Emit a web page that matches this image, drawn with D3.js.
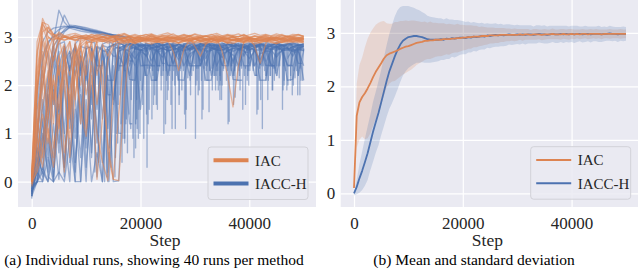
<!DOCTYPE html>
<html><head><meta charset="utf-8">
<script src="https://cdn.jsdelivr.net/npm/d3@7"></script>
<style>
body{margin:0;background:#fff}
svg{display:block}
text{font-family:"Liberation Serif","Times New Roman",serif;fill:#262626}
</style>
</head><body>
<svg id="c" width="640" height="269" font-family="Liberation Serif, serif"></svg>
<script>
// ---------------- DATA ----------------
const METHODS = ["IAC", "IACC-H"];
const X_TICKS = [0, 20000, 40000];
const Y_TICKS = [0, 1, 2, 3];
const STEPS_L = d3.range(0, 50001, 1000);   // logging steps, individual runs
const STEPS_R = d3.range(0, 50001, 500);    // logging steps, aggregated curves
const CAPTION_A = "(a) Individual runs, showing 40 runs per method";
const CAPTION_B = "(b) Mean and standard deviation";
const X_LABEL = "Step";

// individual runs: IAC (value at each 1000-step log point)
const IAC_RUNS = [
[0.02,2.6,3.38,3.12,2.98,2.95,2.99,2.96,3.0,2.97,2.95,2.99,2.97,3.01,2.96,2.98,2.95,2.99,2.97,3.0,2.96,2.98,3.02,2.97,2.95,2.99,2.97,3.0,2.96,2.98,2.95,2.99,3.02,2.97,2.96,2.99,2.97,3.0,2.95,2.98,2.96,3.01,2.97,2.99,2.96,2.98,3.0,2.95,2.98,2.97,2.99],
[0.0,1.9,3.3,3.25,3.05,3.0,3.02,2.98,3.03,3.0,2.99,3.04,3.01,2.98,3.02,3.0,3.05,2.99,3.01,3.03,2.98,3.0,3.04,3.01,2.99,3.02,3.06,3.0,2.98,3.03,3.01,2.99,3.02,3.05,3.0,2.98,3.03,3.01,3.0,3.04,2.99,3.02,3.0,3.03,2.98,3.01,3.05,3.0,3.02,2.99,3.01],
[0.08,1.2,2.5,3.2,3.05,2.96,2.93,2.97,2.94,2.91,2.95,2.92,2.96,2.93,2.9,2.94,2.97,2.92,2.95,2.93,2.9,2.94,2.96,2.92,2.95,2.93,2.7,2.3,2.75,2.93,2.96,2.92,2.94,2.91,2.95,2.93,2.96,2.92,2.94,2.9,2.95,2.93,2.96,2.92,2.94,2.97,2.93,2.91,2.95,2.93,2.96],
[0.0,0.6,1.4,0.8,2.1,1.5,2.6,2.2,2.85,2.5,2.9,2.88,2.93,2.9,2.95,2.91,2.88,2.94,2.92,2.89,2.95,2.91,2.93,2.88,2.94,2.92,2.9,2.95,2.91,2.93,2.89,2.94,2.92,2.96,2.9,2.93,2.91,2.95,2.92,2.89,2.94,2.91,2.93,2.9,2.95,2.92,2.88,2.94,2.91,2.93,2.9],
[0.05,1.8,2.9,2.4,1.2,2.6,1.9,0.9,2.3,1.5,0.94,2.2,1.0,0.4,0.02,1.9,2.85,2.9,2.95,2.92,2.97,2.93,2.96,2.91,2.95,2.98,2.93,2.96,2.92,2.95,2.97,2.93,2.96,2.91,2.94,2.97,2.93,2.95,2.92,2.96,2.98,2.94,2.91,2.95,2.97,2.93,2.96,2.92,2.94,2.97,2.95],
[-0.1,0.3,0.9,1.7,2.5,2.9,3.0,2.96,2.99,2.95,2.98,3.01,2.96,2.99,2.97,3.0,2.95,2.98,3.02,2.97,2.99,2.96,3.0,2.97,2.95,2.99,3.01,2.96,2.98,3.0,2.97,2.99,2.96,3.01,2.98,2.7,2.2,1.55,2.4,2.9,2.98,2.96,3.0,2.97,2.99,2.95,2.98,3.01,2.97,2.99,2.96],
[0.05,2.9,3.3,3.0,2.94,2.97,2.93,2.96,2.92,2.98,2.95,2.93,2.97,2.94,2.96,2.92,2.95,2.98,2.93,2.96,2.94,2.92,2.97,2.95,2.93,2.96,2.98,2.94,2.92,2.96,2.94,2.97,2.93,2.95,2.98,2.94,2.96,2.92,2.95,2.97,2.93,2.96,2.94,2.98,2.95,2.92,2.96,2.94,2.97,2.95,2.93],
[0.0,1.5,2.0,2.7,3.0,3.04,2.99,3.02,2.98,3.01,3.04,2.99,3.02,3.0,3.03,2.98,3.01,3.04,3.0,2.98,3.02,3.05,3.0,2.99,3.03,3.01,2.98,3.02,3.04,3.0,2.99,3.03,3.01,2.98,3.02,3.0,3.04,2.99,3.01,3.03,2.98,2.8,2.45,2.85,3.01,3.03,2.99,3.02,3.0,3.04,3.01],
[0.0,0.9,0.3,1.1,0.5,1.8,2.4,1.6,2.7,1.2,2.5,2.9,2.2,2.85,2.6,2.9,2.94,2.9,2.93,2.88,2.92,2.95,2.9,2.93,2.89,2.94,2.91,2.88,2.93,2.9,2.95,2.91,2.89,2.94,2.9,2.92,2.88,2.93,2.91,2.95,2.9,2.92,2.89,2.94,2.91,2.88,2.93,2.9,2.94,2.91,2.89],
[0.2,2.7,3.25,3.1,3.04,3.06,3.02,3.05,3.07,3.03,3.0,3.05,3.02,3.06,3.03,3.0,3.04,3.07,3.02,3.05,3.01,3.04,3.06,3.02,3.05,3.08,3.03,3.01,3.05,3.02,3.06,3.03,3.0,3.04,3.07,3.02,3.05,3.03,3.06,3.01,3.04,3.07,3.03,3.05,3.02,3.06,3.03,3.01,3.05,3.04,3.02],
[0.0,1.1,2.2,3.0,2.9,2.2,2.8,1.4,2.6,2.9,1.8,2.4,0.05,1.3,2.5,2.8,2.9,2.86,2.9,2.87,2.92,2.88,2.85,2.9,2.87,2.91,2.88,2.86,2.9,2.93,2.87,2.89,2.85,2.9,2.88,2.92,2.86,2.89,2.91,2.87,2.9,2.85,2.89,2.92,2.88,2.86,2.9,2.87,2.91,2.88,2.9],
[0.1,1.9,3.1,3.2,3.0,2.97,3.0,2.96,2.99,3.02,2.97,2.99,2.95,3.0,2.97,3.01,2.98,2.96,3.0,2.97,2.99,2.95,3.02,2.98,2.96,3.0,2.97,2.99,3.01,2.96,2.98,3.0,2.97,2.95,2.99,3.02,2.97,2.99,2.96,3.0,2.98,2.95,2.99,3.01,2.97,2.99,2.96,3.0,2.98,2.96,2.99],
[0.0,0.4,1.6,2.3,0.7,1.4,0.2,1.9,2.6,2.8,2.2,2.9,2.95,2.9,2.93,2.89,2.94,2.91,2.88,2.93,2.9,2.95,2.91,2.89,2.94,2.9,2.92,2.88,2.93,2.91,2.95,2.9,2.92,2.89,2.94,2.91,2.88,2.93,2.9,2.94,2.91,2.89,2.93,2.9,2.95,2.91,2.88,2.92,2.9,2.94,2.91],
[-0.05,2.0,2.7,1.3,2.8,3.0,2.4,2.9,1.7,2.85,2.95,2.6,2.9,1.9,0.8,0.05,1.4,2.7,2.92,2.96,2.93,2.97,2.94,2.98,2.95,2.92,2.96,2.94,2.97,2.93,2.95,2.98,2.94,2.96,2.92,2.95,2.97,2.93,2.96,2.94,2.98,2.95,2.92,2.96,2.94,2.97,2.93,2.95,2.98,2.94,2.96],
[0.0,0.2,0.6,1.3,2.2,1.1,2.7,2.9,2.4,2.95,2.99,2.94,2.97,3.0,2.95,2.98,3.01,2.96,2.99,2.94,2.98,3.0,2.95,2.97,3.01,2.96,2.99,2.94,2.98,3.02,2.96,2.99,2.95,2.97,3.0,2.96,2.98,3.01,2.95,2.99,2.97,2.94,2.98,3.01,2.96,2.99,2.95,2.98,3.0,2.96,2.98],
[0.1,2.2,3.0,2.6,1.6,2.4,0.6,1.5,2.9,2.0,2.85,2.93,2.89,2.92,2.87,2.9,2.93,2.88,2.91,2.86,2.9,2.93,2.88,2.91,2.87,2.9,2.92,2.88,2.91,2.86,2.9,2.93,2.88,2.9,2.87,2.92,2.89,2.86,2.91,2.88,2.93,2.9,2.87,2.91,2.89,2.86,2.9,2.92,2.88,2.91,2.87],
[0.0,1.3,0.5,2.0,2.9,3.1,3.02,2.98,3.04,3.0,3.03,2.99,3.05,3.01,2.98,3.03,3.0,3.06,3.01,2.99,3.03,3.0,3.05,2.98,3.02,3.04,3.0,2.98,3.03,3.01,3.05,2.99,3.02,3.0,3.04,2.98,3.01,3.03,3.0,3.05,2.99,3.02,3.0,3.04,3.01,2.98,3.03,3.0,3.02,3.05,3.0],
[0.05,0.8,2.4,1.0,0.3,1.2,2.3,0.5,1.8,2.6,1.1,2.7,1.6,2.5,0.6,0.05,0.02,1.7,2.8,2.92,2.95,2.9,2.94,2.97,2.92,2.95,2.91,2.94,2.97,2.92,2.95,2.9,2.94,2.96,2.92,2.95,2.91,2.94,2.97,2.92,2.95,2.9,2.94,2.96,2.92,2.95,2.91,2.93,2.96,2.92,2.94],
[0.0,2.3,3.2,2.9,2.5,2.95,3.0,2.96,2.93,2.97,2.99,2.95,2.98,2.94,2.97,3.0,2.95,2.98,2.93,2.97,2.99,2.95,2.98,2.94,2.97,3.0,2.95,2.98,2.93,2.97,2.8,2.6,2.85,2.97,2.94,2.98,2.95,2.99,2.93,2.97,3.0,2.95,2.98,2.94,2.97,2.99,2.95,2.98,2.93,2.97,2.96],
[-0.05,1.0,1.9,2.9,1.7,2.6,2.85,1.3,2.2,2.8,2.9,2.5,2.92,2.96,2.91,2.94,2.97,2.92,2.95,2.9,2.94,2.97,2.92,2.95,2.91,2.94,2.96,2.92,2.95,2.9,2.94,2.97,2.92,2.95,2.91,2.93,2.96,2.92,2.95,2.9,2.94,2.97,2.92,2.95,2.91,2.93,2.96,2.92,2.95,2.91,2.94]
];

// individual runs: IACC-H (value at each 1000-step log point)
const IACCH_RUNS = [
[-0.25,0.4,1.2,2.1,2.9,3.55,3.3,3.18,3.15,3.12,3.1,3.08,3.06,3.04,3.02,3.0,2.88,2.82,2.85,2.8,2.84,2.78,2.83,2.86,2.8,2.84,2.79,2.85,2.82,2.78,2.84,2.81,2.86,2.8,2.83,2.78,2.85,2.82,2.8,2.84,2.79,2.83,2.86,2.81,2.78,2.84,2.82,2.85,2.8,2.83,2.81],
[-0.2,0.1,0.8,1.6,2.4,3.1,3.45,3.22,3.2,3.17,3.14,3.11,3.08,3.05,3.03,3.01,2.99,2.86,2.8,2.84,2.77,2.82,2.85,2.79,2.83,2.76,2.81,2.85,2.78,2.82,2.8,2.85,2.77,2.83,2.8,2.86,2.79,2.82,2.84,2.78,2.81,2.85,2.79,2.83,2.8,2.77,2.84,2.81,2.85,2.79,2.82],
[-0.3,0.6,1.5,2.2,2.8,3.0,3.15,3.24,3.23,3.21,3.19,3.16,3.13,3.1,3.07,3.04,3.02,3.0,2.87,2.82,2.86,2.8,2.84,2.78,2.83,2.87,2.81,2.84,2.79,2.85,2.82,2.8,2.86,2.81,2.84,2.78,2.83,2.86,2.8,2.84,2.81,2.78,2.85,2.82,2.86,2.8,2.83,2.79,2.85,2.82,2.84],
[-0.15,0.2,0.9,1.9,2.6,2.9,3.1,3.2,3.22,3.2,3.17,3.14,3.11,3.08,3.05,3.03,2.85,2.78,2.83,2.76,2.8,2.84,2.77,2.82,2.75,2.8,2.83,2.77,2.81,2.75,2.82,2.79,2.84,2.76,2.8,2.83,2.77,2.81,2.75,2.8,2.84,2.78,2.82,2.76,2.81,2.79,2.83,2.77,2.8,2.75,2.81],
[-0.2,0.0,0.3,0.0,1.2,0.05,2.1,0.4,1.5,0.0,2.5,0.6,2.8,1.3,2.7,2.85,2.3,2.8,2.74,2.8,2.72,2.78,2.74,2.4,2.76,2.72,2.79,2.73,2.77,2.71,2.78,2.74,2.41,2.76,2.73,2.79,2.72,2.76,2.73,2.78,2.71,2.75,2.42,2.77,2.73,2.78,2.72,2.76,2.74,2.78,2.73],
[-0.1,0.0,0.0,0.5,0.0,0.2,0.0,0.9,0.0,0.0,1.7,0.0,0.6,0.0,2.2,0.0,0.02,2.6,1.2,2.7,1.5,2.75,2.78,2.72,2.76,2.8,2.74,2.77,2.71,2.75,2.79,2.73,2.76,2.72,2.78,2.74,2.7,2.76,2.73,2.79,2.74,2.71,2.77,2.73,2.76,2.72,2.78,2.74,2.7,2.75,2.72],
[-0.25,1.0,2.3,1.4,2.8,2.0,2.75,1.1,2.8,2.3,2.7,0.5,2.8,2.75,1.8,2.8,2.76,2.82,2.4,2.78,2.83,2.75,2.8,2.77,2.84,2.76,2.42,2.79,2.82,2.75,2.8,2.77,2.83,2.76,2.81,2.4,2.78,2.82,2.75,2.8,2.77,2.83,2.76,2.8,2.43,2.78,2.82,2.76,2.8,2.77,2.79],
[-0.3,0.3,1.7,0.5,2.2,2.7,1.0,2.6,2.8,2.2,2.75,2.8,2.4,2.4,2.78,2.82,2.4,2.4,2.8,2.76,2.4,2.41,2.4,2.79,2.83,2.42,2.4,2.78,2.81,2.4,2.4,2.41,2.8,2.77,2.83,2.41,2.4,2.79,2.82,2.4,2.4,2.78,2.81,2.41,2.4,2.8,2.77,2.42,2.4,2.79,2.8],
[-0.2,0.0,0.7,1.8,0.3,2.4,2.8,1.5,0.2,2.6,2.1,2.75,0.8,2.7,2.1,2.1,2.76,2.8,2.12,2.1,2.74,2.79,2.1,2.1,2.77,2.72,2.8,2.11,2.1,2.76,2.8,2.73,2.1,2.1,2.78,2.74,2.79,2.12,2.1,2.75,2.8,2.73,2.1,2.1,2.77,2.81,2.74,2.1,2.12,2.76,2.1],
[-0.15,0.5,0.2,1.3,2.0,0.8,2.5,2.7,2.2,2.8,2.76,1.6,2.78,2.72,2.75,2.6,2.78,2.73,2.55,2.76,2.72,2.78,2.5,2.74,2.77,2.71,2.75,2.52,2.78,2.73,2.76,2.71,2.55,2.77,2.74,2.72,2.78,2.5,2.75,2.73,2.77,2.71,2.52,2.76,2.74,2.78,2.72,2.55,2.75,2.73,2.77],
[-0.35,0.8,2.0,2.7,1.6,2.85,2.9,2.3,2.85,3.0,2.95,2.88,2.6,2.85,2.9,2.84,2.87,2.82,2.86,2.83,2.88,2.81,2.85,2.87,2.82,2.86,2.84,2.6,2.85,2.88,2.82,2.86,2.83,2.87,2.81,2.85,2.88,2.82,2.86,2.6,2.84,2.87,2.82,2.86,2.83,2.88,2.81,2.85,2.87,2.83,2.86],
[-0.2,0.2,0.0,0.9,0.1,1.4,0.3,2.3,0.4,1.8,0.0,2.5,1.1,0.0,2.6,1.7,2.7,2.78,2.5,2.8,2.75,2.6,2.78,2.81,2.74,2.79,2.45,2.77,2.8,2.74,2.78,2.5,2.76,2.8,2.73,2.79,2.75,2.45,2.78,2.81,2.74,2.77,2.8,2.5,2.76,2.79,2.74,2.78,2.6,2.8,2.76],
[-0.3,1.5,2.6,2.9,3.0,3.05,3.12,3.2,3.19,3.17,3.15,3.13,3.11,3.09,3.06,3.04,3.03,3.01,3.0,2.86,2.8,2.84,2.78,2.82,2.86,2.79,2.83,2.8,2.85,2.78,2.82,2.86,2.8,2.84,2.79,2.83,2.86,2.8,2.83,2.78,2.85,2.81,2.84,2.79,2.83,2.86,2.8,2.84,2.79,2.82,2.85],
[-0.1,0.0,1.3,0.1,0.0,2.4,0.3,1.8,0.0,2.7,0.9,2.0,0.1,2.8,1.1,2.75,2.8,2.3,2.78,2.74,2.8,2.72,2.77,2.81,2.45,2.76,2.8,2.73,2.78,2.44,2.75,2.81,2.74,2.78,2.72,2.77,2.45,2.8,2.75,2.78,2.73,2.79,2.44,2.76,2.8,2.74,2.77,2.72,2.79,2.45,2.76],
[-0.2,0.7,0.1,1.9,2.6,1.4,2.8,2.3,2.85,1.2,2.8,2.76,2.3,2.82,2.78,2.84,2.77,2.81,2.85,2.78,2.82,2.76,2.84,2.79,2.83,2.77,2.81,2.85,2.78,2.82,2.76,2.84,2.79,2.83,2.77,2.81,2.85,2.78,2.82,2.76,2.84,2.79,2.83,2.77,2.81,2.85,2.78,2.82,2.76,2.83,2.8],
[-0.3,0.0,0.2,0.0,0.7,1.6,0.1,2.4,0.9,2.6,0.3,1.9,2.7,0.4,2.75,1.6,2.7,2.74,2.7,2.55,2.73,2.7,2.76,2.72,2.58,2.71,2.75,2.7,2.73,2.56,2.72,2.76,2.7,2.74,2.71,2.57,2.73,2.7,2.75,2.72,2.55,2.71,2.74,2.7,2.73,2.58,2.72,2.75,2.7,2.73,2.71],
[-0.1,0.9,2.5,2.85,3.05,3.15,3.2,3.21,3.19,3.18,3.15,3.12,3.1,3.08,3.06,3.04,3.02,2.9,2.84,2.87,2.82,2.86,2.83,2.87,2.81,2.85,2.88,2.83,2.86,2.82,2.87,2.84,2.81,2.86,2.83,2.88,2.82,2.85,2.87,2.83,2.86,2.81,2.85,2.88,2.82,2.86,2.84,2.87,2.82,2.85,2.83],
[-0.25,0.3,1.0,0.2,1.9,0.6,2.2,2.7,1.7,0.5,2.4,1.3,2.6,2.2,0.0,1.5,2.6,2.4,2.65,2.4,2.7,2.62,2.4,2.68,2.72,2.4,2.66,2.7,2.4,2.64,2.71,2.4,2.67,2.72,2.4,2.65,2.7,2.62,2.4,2.68,2.72,2.4,2.66,2.7,2.4,2.63,2.71,2.4,2.67,2.7,2.4],
[-0.2,1.8,2.9,3.1,3.18,3.2,3.22,3.2,3.19,3.16,3.13,3.11,3.09,3.07,3.05,3.03,3.01,2.99,2.98,2.88,2.83,2.87,2.8,2.85,2.88,2.82,2.86,2.8,2.84,2.87,2.81,2.85,2.88,2.82,2.86,2.8,2.84,2.87,2.81,2.85,2.88,2.82,2.86,2.8,2.84,2.87,2.81,2.85,2.88,2.82,2.86],
[-0.15,0.0,0.5,1.4,0.0,2.0,1.0,0.0,2.5,1.9,0.7,2.75,1.5,2.7,0.2,2.4,1.0,2.72,2.2,2.76,2.71,2.2,2.75,2.7,2.78,2.2,2.73,2.77,2.7,2.2,2.74,2.78,2.71,2.2,2.76,2.72,2.77,2.2,2.74,2.7,2.78,2.2,2.73,2.76,2.71,2.2,2.75,2.77,2.72,2.2,2.74]
];
// brief drops of the IACC-H runs: [step, value]
const IACCH_DIPS = [
[[18500,2.1],[21100,1.4],[23500,2.4],[26300,2.0],[29200,1.8],[32700,2.3],[35500,2.45],[38300,1.9],[41200,2.2],[44700,2.35],[47800,2.4]],
[[17300,1.2],[19600,0.9],[21800,2.35],[24100,2.2],[26400,1.1],[29500,2.4],[31800,2.1],[35200,2.3],[38600,2.4],[41300,2.2],[44300,1.9],[49500,2.1]],
[[15400,0.5],[19700,1.5],[22300,2.2],[24200,2.4],[28700,2.15],[31100,2.4],[33300,2.4],[37400,1.75],[40100,2.3],[42600,2.4],[46400,2.1],[48600,2.4]],
[[16800,0.9],[20200,1.9],[22400,1.6],[27300,2.4],[30100,0.9],[32800,2.3],[34600,2.2],[37600,2.4],[39900,2.45],[45500,2.15],[47900,1.8]],
[[17600,0.6],[21200,0.3],[23800,1.9],[25800,1.1],[28600,2.4],[31200,2.1],[33900,2.3],[36100,1.2],[40700,2.3],[43100,2.1],[48400,2.15]],
[[18600,0.9],[23100,1.5],[25400,2.3],[27800,2.4],[30200,2.0],[32600,1.45],[35300,2.35],[37900,2.1],[40800,2.4],[43700,2.4],[46200,1.9],[49000,2.2]],
[[14600,0.3],[17100,0.9],[19300,1.3],[22200,2.3],[24800,2.1],[27100,1.6],[29700,2.3],[33800,1.9],[36200,2.4],[38200,2.2],[42100,1.7],[44400,2.35],[47300,2.4]],
[[15800,0.8],[19400,1.1],[21600,1.5],[26900,2.1],[30800,1.9],[34100,2.1],[39300,1.6],[44600,2.1],[48100,2.0]],
[[16400,1.2],[20400,1.6],[24300,1.0],[30600,1.8],[34600,1.7],[38800,1.5],[44200,1.9]],
[[13400,0.0],[15600,1.0],[17900,1.4],[20600,0.9],[23100,2.3],[25300,2.2],[28300,1.1],[31700,2.35],[35000,2.0],[38100,2.3],[40200,2.4],[43500,2.1],[46900,1.9]],
[[11600,0.2],[14300,0.7],[16200,1.8],[19100,1.2],[22900,1.6],[26100,2.3],[29100,2.1],[31500,1.5],[34200,2.3],[36700,2.4],[41800,2.1],[45300,2.4],[48900,1.8]],
[[18800,0.5],[22100,1.3],[24700,2.3],[27600,1.9],[32100,2.3],[34700,2.1],[36300,1.25],[39800,2.3],[43200,2.2],[46100,1.5],[49300,2.35]],
[[20400,2.4],[22900,2.1],[25100,1.9],[27900,2.3],[30900,2.4],[33600,2.2],[35800,2.1],[38600,2.35],[40900,2.4],[43000,2.2],[45000,2.4],[47600,2.1]],
[[15300,0.1],[17400,1.3],[19900,1.0],[22600,2.1],[24600,1.2],[27400,2.35],[29400,2.2],[32400,2.1],[34900,1.7],[37300,2.3],[39600,2.1],[42300,2.4],[44900,2.3],[49800,2.1]],
[[12300,0.4],[15900,1.6],[18200,1.1],[20900,2.2],[23800,2.2],[28100,1.4],[30600,2.35],[33100,2.35],[37100,1.6],[39700,2.2],[42800,2.3],[45100,2.2],[47100,2.0]],
[[17100,0.8],[20000,2.1],[22600,1.8],[26600,2.2],[28900,2.4],[31300,1.3],[33900,2.2],[36800,2.4],[41400,1.4],[43900,2.2],[46700,2.3]],
[[18300,1.7],[21300,2.35],[23300,2.3],[25900,2.1],[28400,1.5],[30800,2.4],[33500,2.2],[36000,2.3],[38400,2.4],[43400,1.7],[45600,2.4],[48200,2.3]],
[[14200,0.6],[19100,0.7],[22800,2.1],[25600,1.6],[30400,2.1],[33200,1.9],[37200,2.2],[39900,2.0],[42400,1.1],[44800,2.25],[47600,2.2]],
[[20800,2.2],[23200,2.4],[24900,1.7],[27300,2.3],[29900,2.45],[32200,2.1],[34300,1.9],[36700,2.3],[39100,2.2],[41900,2.35],[44100,2.4],[46400,2.0],[49300,1.8]],
[[13800,0.1],[16600,0.4],[19300,1.7],[21400,1.2],[24200,2.3],[27100,1.8],[30300,2.35],[32300,2.4],[34600,2.0],[36500,2.2],[39300,2.35],[41600,1.5],[43800,2.2],[46300,2.4],[48700,2.3]]
];

// aggregated (every 500 steps)
const IAC_MEAN = [
0.1,1.45,1.7,1.8,1.87,1.96,2.06,2.17,2.27,2.35,
2.43,2.52,2.58,2.61,2.63,2.65,2.67,2.7,2.72,2.74,
2.75,2.77,2.79,2.81,2.82,2.83,2.85,2.85,2.86,2.86,
2.87,2.87,2.87,2.88,2.88,2.88,2.89,2.89,2.9,2.9,
2.91,2.91,2.92,2.92,2.93,2.93,2.93,2.94,2.94,2.94,
2.95,2.95,2.95,2.95,2.96,2.96,2.96,2.96,2.96,2.96,
2.96,2.97,2.96,2.97,2.97,2.96,2.97,2.97,2.97,2.96,
2.97,2.97,2.97,2.98,2.97,2.97,2.97,2.98,2.97,2.97,
2.98,2.97,2.98,2.97,2.98,2.98,2.97,2.98,2.98,2.98,
2.98,2.97,2.98,2.98,2.98,2.98,2.98,2.98,2.98,2.98,
2.98];
const IAC_STD = [
0.05,0.6,0.7,0.74,0.86,0.93,0.94,0.91,0.88,0.84,
0.78,0.7,0.6,0.56,0.54,0.55,0.53,0.52,0.5,0.49,
0.47,0.46,0.44,0.41,0.39,0.37,0.36,0.34,0.35,0.33,
0.32,0.31,0.31,0.3,0.28,0.29,0.27,0.26,0.27,0.25,
0.24,0.23,0.22,0.22,0.2,0.2,0.18,0.18,0.17,0.16,
0.15,0.15,0.14,0.14,0.13,0.13,0.12,0.12,0.11,0.12,
0.11,0.1,0.11,0.1,0.1,0.09,0.1,0.1,0.09,0.1,
0.1,0.09,0.09,0.1,0.09,0.09,0.1,0.09,0.09,0.1,
0.09,0.09,0.08,0.09,0.09,0.08,0.09,0.09,0.08,0.09,
0.08,0.09,0.08,0.08,0.09,0.08,0.08,0.08,0.09,0.08,
0.08];
const IACCH_MEAN = [
0.0,0.12,0.28,0.42,0.58,0.75,0.95,1.15,1.33,1.5,
1.7,1.9,2.1,2.28,2.42,2.56,2.68,2.78,2.85,2.89,
2.92,2.93,2.94,2.94,2.93,2.92,2.9,2.88,2.87,2.87,
2.87,2.87,2.88,2.87,2.89,2.88,2.9,2.89,2.9,2.91,
2.91,2.9,2.92,2.91,2.93,2.92,2.93,2.94,2.93,2.95,
2.94,2.95,2.96,2.95,2.96,2.95,2.96,2.97,2.96,2.96,
2.97,2.96,2.97,2.96,2.97,2.97,2.96,2.97,2.98,2.97,
2.97,2.96,2.97,2.98,2.97,2.97,2.98,2.97,2.98,2.97,
2.98,2.97,2.98,2.98,2.97,2.98,2.98,2.97,2.98,2.98,
2.98,2.97,2.98,2.98,2.99,2.98,2.98,2.97,2.98,2.98,
2.98];
const IACCH_STD = [
0.04,0.14,0.27,0.36,0.44,0.5,0.52,0.56,0.57,0.6,
0.61,0.64,0.67,0.7,0.73,0.75,0.74,0.7,0.65,0.61,
0.58,0.55,0.53,0.5,0.49,0.47,0.46,0.44,0.43,0.42,
0.41,0.4,0.39,0.38,0.38,0.37,0.35,0.35,0.34,0.32,
0.31,0.3,0.29,0.28,0.27,0.27,0.25,0.25,0.24,0.23,
0.23,0.22,0.22,0.21,0.21,0.2,0.2,0.19,0.19,0.18,
0.18,0.18,0.17,0.18,0.17,0.17,0.16,0.17,0.16,0.16,
0.17,0.16,0.16,0.15,0.16,0.16,0.15,0.16,0.15,0.15,
0.15,0.16,0.15,0.14,0.15,0.15,0.14,0.15,0.14,0.14,
0.15,0.14,0.14,0.13,0.14,0.14,0.13,0.14,0.13,0.14,
0.13];

// ---------------- DRAWING ----------------
const ORANGE = "#DD8452", BLUE = "#4C72B0", BG = "#EAEAF2";
const FONT = "Liberation Serif, Times New Roman, serif";
const svg = d3.select("#c");

function setupPanel(id, x, y) {
  const g = svg.append("g");
  const [x0, x1] = x.range(), [y1, y0] = y.range();
  g.append("rect").attr("x", x0).attr("y", y0).attr("width", x1 - x0).attr("height", y1 - y0).attr("fill", BG);
  svg.append("clipPath").attr("id", id).append("rect")
    .attr("x", x0).attr("y", y0).attr("width", x1 - x0).attr("height", y1 - y0);
  const gx = g.append("g").attr("transform", `translate(0,${y1})`)
    .call(d3.axisBottom(x).tickValues(X_TICKS).tickFormat(d3.format("d")).tickSize(-(y1 - y0)).tickPadding(10));
  gx.attr("font-family", FONT);
  gx.select(".domain").remove();
  gx.selectAll("line").attr("stroke", "#fff").attr("stroke-width", 1.2);
  gx.selectAll("text").attr("font-size", 17);
  const gy = g.append("g").attr("transform", `translate(${x0},0)`)
    .call(d3.axisLeft(y).tickValues(Y_TICKS).tickFormat(d3.format("d")).tickSize(-(x1 - x0)).tickPadding(5.5));
  gy.attr("font-family", FONT);
  gy.select(".domain").remove();
  gy.selectAll("line").attr("stroke", "#fff").attr("stroke-width", 1.2);
  gy.selectAll("text").attr("font-size", 17);
  g.append("text").attr("x", (x0 + x1) / 2 - 2).attr("y", 246).attr("text-anchor", "middle")
    .attr("font-size", 17.5).text(X_LABEL);
  return svg.append("g").attr("clip-path", `url(#${id})`);
}

function legend(x, y, lw) {
  const g = svg.append("g");
  g.append("rect").attr("x", x).attr("y", y).attr("width", 100).attr("height", 52.5).attr("rx", 3)
    .attr("fill", BG).attr("fill-opacity", 0.85).attr("stroke", "#d2d2d8").attr("stroke-width", 1);
  [ORANGE, BLUE].forEach((c, i) => {
    const yy = y + 13.3 + i * 23.3;
    g.append("line").attr("x1", x + 5.5).attr("x2", x + 40.5).attr("y1", yy).attr("y2", yy)
      .attr("stroke", c).attr("stroke-width", lw);
    g.append("text").attr("x", x + 47).attr("y", yy).attr("dy", "0.35em").attr("font-size", 15).text(METHODS[i]);
  });
}

// ----- left panel -----
const xL = d3.scaleLinear().domain([-2518, 52261]).range([18, 316]);
const yL = d3.scaleLinear().domain([-0.524, 3.762]).range([207, 0]);
const pL = setupPanel("clipL", xL, yL);
const lineL = d3.line().x(d => xL(d[0])).y(d => yL(d[1]));
function runPoints(vals, dips) {
  const pts = [];
  vals.forEach((v, i) => {
    const s = STEPS_L[i];
    pts.push([s, v]);
    (dips || []).filter(d => d[0] >= s && d[0] < s + 1000)
      .forEach(d => { pts.push([d[0], v], [d[0], d[1]], [d[0], v]); });
  });
  return pts;
}
IACCH_RUNS.forEach((r, k) => {
  pL.append("path").attr("d", lineL(runPoints(r, IACCH_DIPS[k]))).attr("fill", "none")
    .attr("stroke", BLUE).attr("stroke-width", 1.35).attr("stroke-opacity", 0.5).attr("stroke-linejoin", "round");
});
IAC_RUNS.forEach(r => {
  pL.append("path").attr("d", lineL(runPoints(r))).attr("fill", "none")
    .attr("stroke", ORANGE).attr("stroke-width", 1.3).attr("stroke-opacity", 0.55).attr("stroke-linejoin", "round");
});
legend(208, 147, 4);

// ----- right panel -----
const xR = d3.scaleLinear().domain([-2445, 52206]).range([340.7, 638]);
const yR = d3.scaleLinear().domain([-0.256, 3.613]).range([207, 0]);
const pR = setupPanel("clipR", xR, yR);
function band(mean, std, color) {
  const area = d3.area().x((d, i) => xR(STEPS_R[i]))
    .y0((d, i) => yR(mean[i] - std[i])).y1((d, i) => yR(mean[i] + std[i]));
  pR.append("path").attr("d", area(mean)).attr("fill", color).attr("fill-opacity", 0.2);
}
function meanLine(mean, color) {
  const line = d3.line().x((d, i) => xR(STEPS_R[i])).y(d => yR(d));
  pR.append("path").attr("d", line(mean)).attr("fill", "none").attr("stroke", color)
    .attr("stroke-width", 1.8).attr("stroke-linejoin", "round");
}
band(IAC_MEAN, IAC_STD, ORANGE);
band(IACCH_MEAN, IACCH_STD, BLUE);
meanLine(IACCH_MEAN, BLUE);
meanLine(IAC_MEAN, ORANGE);
legend(530.7, 146.7, 2);

// captions
svg.append("text").attr("x", 154).attr("y", 265).attr("text-anchor", "middle").attr("font-size", 15.5).style("fill", "#000").text(CAPTION_A);
svg.append("text").attr("x", 474).attr("y", 265).attr("text-anchor", "middle").attr("font-size", 15.5).style("fill", "#000").text(CAPTION_B);
</script>
</body></html>
